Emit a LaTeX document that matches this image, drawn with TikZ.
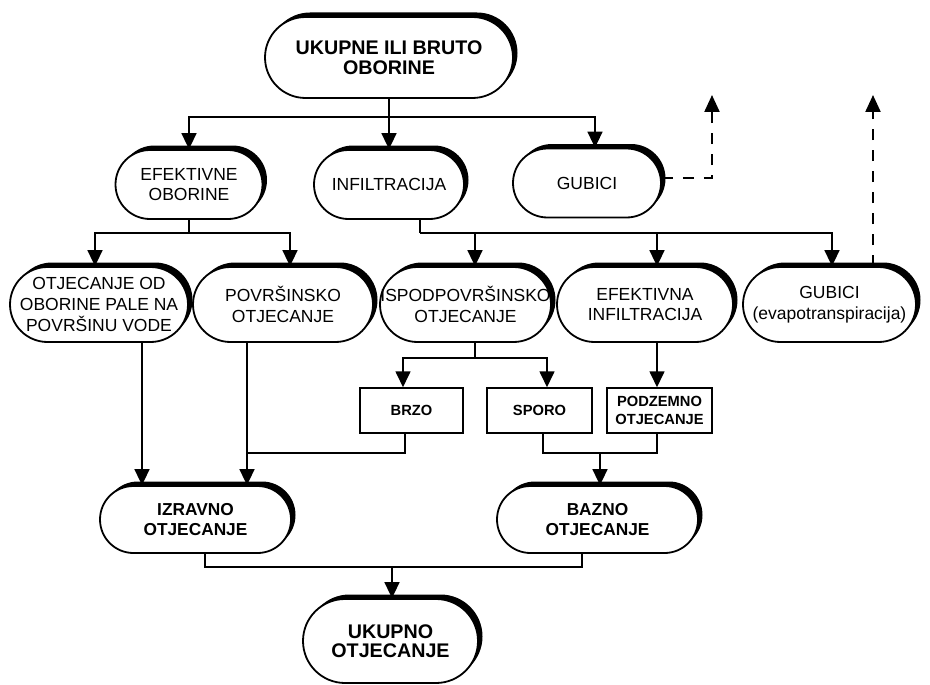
\documentclass[tikz,border=0pt]{standalone}
\usepackage{fontspec}
\setmainfont{Liberation Sans}
\usetikzlibrary{arrows.meta,shadows}
\begin{document}
\begin{tikzpicture}[x=1pt,y=-1pt,
  pill/.style 2 args={draw, line width=1.8pt, fill=white, rectangle,
     rounded corners={(#2)/2}, minimum width=#1, minimum height=#2,
     inner sep=0pt, align=center,
     general shadow={fill=black, opacity=1, shadow xshift=4.5pt, shadow yshift=4.5pt}},
  sbox/.style 2 args={draw, line width=1.5pt, fill=white, rectangle,
     minimum width=#1, minimum height=#2, inner sep=0pt, align=center,
     font=\bfseries\fontsize{14.7}{17.7}\selectfont},
  freg/.style={font=\fontsize{17.5}{20.7}\selectfont},
  fbold/.style={font=\bfseries\fontsize{17.3}{20}\selectfont},
  fbig/.style={font=\bfseries\fontsize{19.7}{19.5}\selectfont},
  conn/.style={line width=1.7pt},
  arr/.style={conn, -{Triangle[length=16pt,width=15pt]}},
  darr/.style={line width=2.2pt, dash pattern=on 11pt off 10pt, -{Triangle[length=17pt,width=15pt]}}
]
\useasboundingbox (0,0) rectangle (930,685);

% nodes
\node[pill={248pt}{81pt}, fbig] (top) at (389,57.5) {UKUPNE ILI BRUTO\\OBORINE};
\node[pill={147pt}{69pt}, freg] (efo) at (189,184.5) {EFEKTIVNE\\OBORINE};
\node[pill={150pt}{69pt}, freg] (inf) at (389,184.5) {INFILTRACIJA};
\node[pill={148pt}{69pt}, freg] (gub) at (587,183) {GUBICI};

\node[pill={178pt}{75pt}, freg] (ood) at (99,304.5) {OTJECANJE OD\\OBORINE PALE NA\\POVRŠINU VODE};
\node[pill={180pt}{75pt}, freg] (pov) at (283,304.5) {POVRŠINSKO\\OTJECANJE};
\node[pill={171pt}{75pt}, freg] (isp) at (465.5,304.5) {ISPODPOVRŠINSKO\\OTJECANJE};
\node[pill={176pt}{75pt}, freg] (efi) at (645,304.5) {EFEKTIVNA\\INFILTRACIJA};
\node[pill={173pt}{75pt}, freg] (gev) at (829.5,304.5) {GUBICI\\(evapotranspiracija)};

\node[sbox={103pt}{45pt}] (brzo) at (411.5,410.5) {BRZO};
\node[sbox={105pt}{45pt}] (sporo) at (539.5,410.5) {SPORO};
\node[sbox={105pt}{45pt}] (podz) at (659.5,410.5) {PODZEMNO\\OTJECANJE};

\node[pill={191pt}{67pt}, fbold] (izr) at (195.5,519.5) {IZRAVNO\\OTJECANJE};
\node[pill={201pt}{67pt}, fbold] (baz) at (597.5,519.5) {BAZNO\\OTJECANJE};
\node[pill={175pt}{84pt}, fbig] (uk) at (390.5,641) {UKUPNO\\OTJECANJE};

% junctions
\coordinate (j1) at (389,117);
\coordinate (j2) at (189,233);
\coordinate (j3) at (420,233);
\coordinate (j4) at (475,358);
\coordinate (j5) at (247,453);
\coordinate (j6) at (600,453);
\coordinate (j7) at (392,567);
\coordinate (d1) at (712,95);
\coordinate (d2) at (873,95);

% connectors
\draw[arr] (top.south) -- (inf.north);
\draw[arr] (j1) -| (efo.north);
\draw[arr] (j1) -| ([xshift=8pt]gub.north);

\draw[conn] (efo.south) -- (j2);
\draw[arr] (j2) -| ([xshift=-4pt]ood.north);
\draw[arr] (j2) -| ([xshift=7pt]pov.north);

\draw[conn] ([xshift=31pt]inf.south) -- (j3);
\draw[arr] (j3) -| ([xshift=9.5pt]isp.north);
\draw[arr] (j3) -| ([xshift=12pt]efi.north);
\draw[arr] (j3) -| ([xshift=2.5pt]gev.north);

\draw[conn] ([xshift=9.5pt]isp.south) -- (j4);
\draw[arr] (j4) -| ([xshift=-8.5pt]brzo.north);
\draw[arr] (j4) -| ([xshift=7.5pt]sporo.north);

\draw[arr] ([xshift=12pt]efi.south) -- ([xshift=-2.5pt]podz.north);

\draw[arr] ([xshift=43pt]ood.south) -- ([xshift=-53.5pt]izr.north);
\draw[arr] ([xshift=-36pt]pov.south) -- ([xshift=51.5pt]izr.north);
\draw[conn] ([xshift=-6.5pt]brzo.south) |- (j5);

\draw[conn] ([xshift=3.5pt]sporo.south) |- (j6) -| ([xshift=-2.5pt]podz.south);
\draw[arr] (j6) -- ([xshift=2.5pt]baz.north);

\draw[conn] ([xshift=9.5pt]izr.south) |- (j7) -| ([xshift=-15.5pt]baz.south);
\draw[arr] (j7) -- ([xshift=1.5pt]uk.north);

\draw[darr] ([yshift=5pt]gub.east) -| (d1);
\draw[darr] ([xshift=43.5pt]gev.north) -- (d2);
\end{tikzpicture}
\end{document}
